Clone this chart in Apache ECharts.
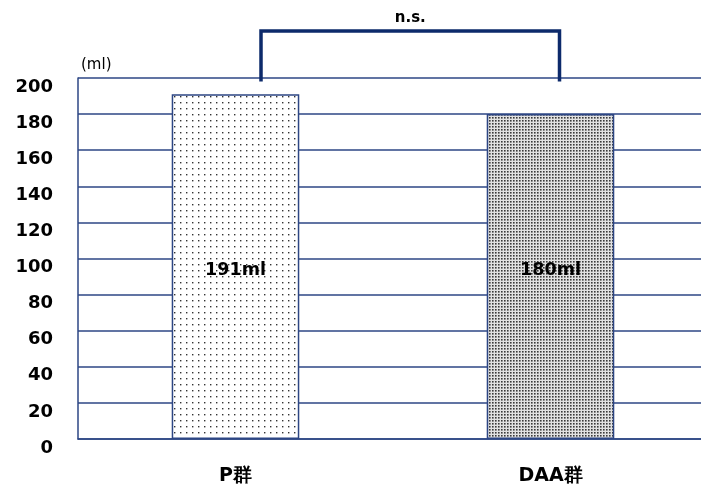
<!DOCTYPE html>
<html><head><meta charset="utf-8">
<script src="https://cdn.jsdelivr.net/npm/echarts@6/dist/echarts.min.js"></script>
<style>html,body{margin:0;padding:0;background:#fff;overflow:hidden}#c{width:712px;height:489px}</style>
</head><body><div id="c"></div>
<script>
const categories = ['P群', 'DAA群'];
const values = [191, 180];
const valueLabels = ['191ml', '180ml'];
const yTicks = [0, 20, 40, 60, 80, 100, 120, 140, 160, 180, 200];
const unitLabel = '(ml)';
const sigLabel = 'n.s.';

function makePattern(step, dot, bg, fg) {
  const c = document.createElement('canvas');
  c.width = step; c.height = step;
  const g = c.getContext('2d');
  g.fillStyle = bg; g.fillRect(0, 0, step, step);
  g.fillStyle = fg;
  g.fillRect(0, 0, dot, dot);
  return c;
}
const p1 = makePattern(6, 1.4, '#ffffff', '#333');
const p2 = makePattern(3, 1.6, '#e2e2e2', '#3a3a3a');

const navy = '#2d4684';
const font = '"DejaVu Sans", sans-serif';
const chart = echarts.init(document.getElementById('c'));
chart.setOption({
  animation: false,
  grid: { left: 78, right: 4, top: 78, bottom: 50, containLabel: false },
  xAxis: {
    type: 'category', data: categories,
    axisLine: { lineStyle: { color: navy, width: 1.5 } },
    axisTick: { inside: true, length: 7, lineStyle: { color: navy, width: 1.5 } },
    axisLabel: { color: '#000', fontSize: 19, fontWeight: 'bold', fontFamily: font, margin: 28 }
  },
  yAxis: {
    type: 'value', min: yTicks[0], max: yTicks[yTicks.length - 1], interval: yTicks[1] - yTicks[0],
    axisLine: { show: true, lineStyle: { color: navy, width: 1.5 } },
    axisTick: { show: false },
    splitLine: { lineStyle: { color: navy, width: 1.5 } },
    axisLabel: { color: '#000', fontSize: 18, fontWeight: 'bold', fontFamily: font, margin: 25, verticalAlign: 'top' }
  },
  series: [{
    type: 'bar', barWidth: '40.5%',
    data: values.map((v, i) => ({
      value: v,
      itemStyle: { color: { image: i === 0 ? p1 : p2, repeat: 'repeat' }, borderColor: navy, borderWidth: 1.5 }
    })),
    label: {
      show: true, position: 'insideBottom', distance: 160, color: '#000', fontSize: 17.5, fontWeight: 'bold', fontFamily: font,
      formatter: p => valueLabels[p.dataIndex]
    },
    z: 3
  }]
});

function drawAnno() {
  const c0 = chart.convertToPixel({ xAxisIndex: 0 }, categories[0]);
  const c1 = chart.convertToPixel({ xAxisIndex: 0 }, categories[1]);
  const x1 = c0 + 25.5;
  const x2 = c1 + 9;
  const yTop = chart.convertToPixel({ yAxisIndex: 0 }, 226);
  const yBot = chart.convertToPixel({ yAxisIndex: 0 }, 198);
  const y200 = chart.convertToPixel({ yAxisIndex: 0 }, 200);
  const x0 = c0 - (c1 - c0) / 2;
  chart.setOption({
    graphic: [
      { type: 'polyline', z: 10, shape: { points: [[x1, yBot], [x1, yTop], [x2, yTop], [x2, yBot]] },
        style: { stroke: '#0d2a6b', lineWidth: 3.5, fill: null } },
      { type: 'text', z: 10, x: (x1 + x2) / 2, y: yTop - 13,
        style: { text: sigLabel, fill: '#000', font: 'bold 15px ' + font, textAlign: 'center', textVerticalAlign: 'middle' } },
      { type: 'text', z: 10, x: x0 + 3, y: y200 - 13,
        style: { text: unitLabel, fill: '#000', font: '15px ' + font, textAlign: 'left', textVerticalAlign: 'middle' } }
    ]
  });
}
drawAnno();
</script></body></html>
